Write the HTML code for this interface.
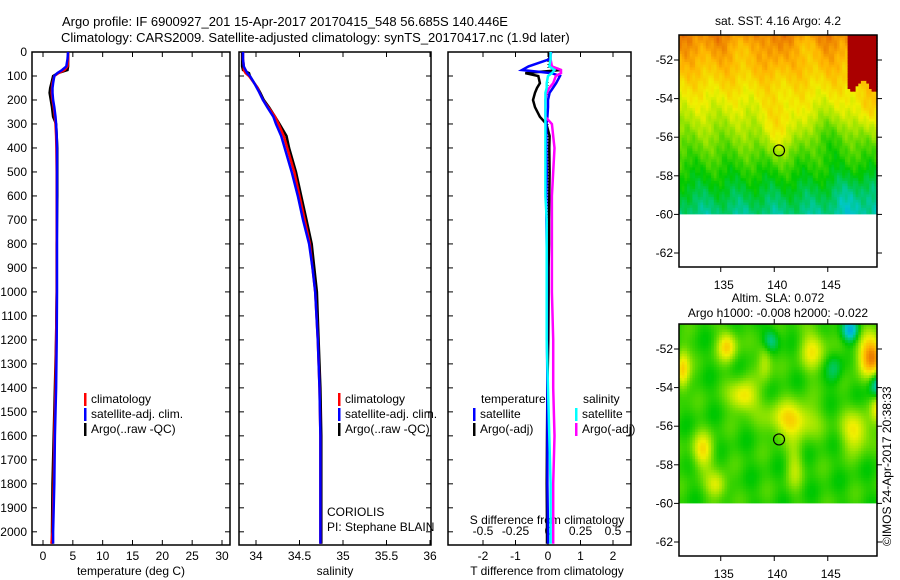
<!DOCTYPE html>
<html><head><meta charset="utf-8"><style>
html,body{margin:0;padding:0;background:#fff}
svg{display:block;font-family:"Liberation Sans",sans-serif}
text{font-size:12px;fill:#000}
</style></head><body>
<svg id="c" width="900" height="580" viewBox="0 0 900 580" xmlns="http://www.w3.org/2000/svg">
<text x="62" y="26" style="font-size:13px">Argo profile: IF 6900927_201 15-Apr-2017 20170415_548 56.685S 140.446E</text>
<text x="61" y="42" style="font-size:13px">Climatology: CARS2009. Satellite-adjusted climatology: synTS_20170417.nc (1.9d later)</text>
<g id="g"></g>
</svg>
<script>
// ---- data ----
const depthTicks=[0,100,200,300,400,500,600,700,800,900,1000,1100,1200,1300,1400,1500,1600,1700,1800,1900,2000];
const tTicks=[0,5,10,15,20,25,30];
const sTicks=[34,34.5,35,35.5,36];
const sTickLabels=["34","34.5","35","35.5","36"];
const dTTicks=[-2,-1,0,1,2];
const dSTicks=[-0.5,-0.25,0,0.25,0.5];
const dSTickLabels=["-0.5","-0.25","0","0.25","0.5"];
const depths=[0,30,60,75,88,100,130,150,170,200,230,270,300,350,400,500,600,700,800,900,1000,1200,1400,1600,1800,2000,2050];
const tempClim=[4.2,4.2,4.1,3.6,2.6,1.9,1.6,1.5,1.45,1.6,1.8,2.0,2.1,2.2,2.25,2.3,2.3,2.3,2.3,2.3,2.3,2.2,2.1,1.9,1.8,1.6,1.4];
const tempSat=[4.2,4.1,3.9,3.2,2.4,1.9,1.7,1.6,1.6,1.7,1.9,2.1,2.2,2.3,2.35,2.35,2.35,2.35,2.35,2.35,2.35,2.3,2.2,2.0,1.9,1.7,1.7];
const tempArgo=[4.2,4.2,4.2,4.1,2.5,1.7,1.4,1.2,1.1,1.3,1.5,1.7,2.2,2.3,2.4,2.4,2.4,2.35,2.3,2.3,2.3,2.2,2.0,1.8,1.6,1.5,1.5];
const salClim=[33.85,33.85,33.86,33.86,33.88,33.92,33.98,34.02,34.04,34.08,34.14,34.22,34.26,34.32,34.36,34.44,34.5,34.56,34.62,34.65,34.68,34.71,34.73,34.74,34.74,34.74,34.74];
const salSat=[33.85,33.85,33.86,33.88,33.9,33.93,33.98,34.01,34.04,34.08,34.13,34.2,34.23,34.29,34.33,34.41,34.48,34.54,34.61,34.65,34.68,34.71,34.73,34.74,34.74,34.74,34.74];
const salArgo=[33.84,33.84,33.84,33.85,33.92,33.93,33.98,34.02,34.05,34.09,34.15,34.22,34.27,34.35,34.38,34.46,34.52,34.58,34.64,34.67,34.7,34.72,34.74,34.75,34.75,34.75,34.75];
const dTSat=[0.1,0.05,-0.6,-0.8,0.1,0.37,0.25,0.15,0.05,0,0,-0.02,-0.05,-0.05,-0.05,-0.04,-0.05,-0.05,-0.04,-0.03,-0.03,-0.03,-0.02,-0.02,-0.02,0,0];
const dTArgo=[0.02,0.05,0.1,0.4,-0.7,-0.3,-0.25,-0.34,-0.4,-0.46,-0.4,-0.25,-0.05,0.05,0.04,0.05,0.04,0.03,0.03,0.02,0.02,0.01,-0.02,-0.03,-0.04,-0.03,-0.03];
const dSSat=[0.02,0.02,0.01,0.05,0.03,0,-0.01,-0.01,-0.02,-0.02,-0.02,-0.02,-0.02,-0.02,-0.02,-0.02,-0.02,-0.01,-0.01,-0.01,-0.01,-0.01,0,0.01,0.02,0.02,0.02];
const dSArgo=[0.02,0.02,0.03,0.1,0.1,0.06,0.04,0.01,-0.01,-0.02,-0.02,-0.02,0.03,0.04,0.05,0.04,0.03,0.03,0.03,0.03,0.03,0.04,0.04,0.05,0.04,0.04,0.04];
const lonTicks=[135,140,145];
const latTicks=[-52,-54,-56,-58,-60,-62];
const argoPos=[140.446,-56.685];

// ---- helpers ----
const NS="http://www.w3.org/2000/svg", G=document.getElementById('g');
function el(t,a,p){const e=document.createElementNS(NS,t);for(const k in a)e.setAttribute(k,a[k]);(p||G).appendChild(e);return e;}
const Y0=52,Y1=545,DMAX=2055;
const yD=d=>Y0+d*(Y1-Y0)/DMAX;
function lin(d0,d1,p0,p1){return v=>p0+(v-d0)*(p1-p0)/(d1-d0);}
const panels=[{x0:32,x1:230,f:lin(0,30,43,222)},{x0:239,x1:431,f:lin(34,36,256,430)},{x0:448,x1:631,f:lin(0,1,548,580.5)}];
const xS=lin(0,0.5,548,613);
function box(x0,y0,x1,y1,name){const r=el('rect',{x:x0,y:y0,width:x1-x0,height:y1-y0,fill:'none',stroke:'#000','stroke-width':1.5});}
function txt(x,y,s,anchor,name,extra){const t=el('text',Object.assign({x:x,y:y,'text-anchor':anchor||'start'},extra||{}));t.textContent=s;return t;}
function series(vals,fx,color,name,w){const pts=vals.map((v,i)=>fx(v).toFixed(1)+','+yD(depths[i]).toFixed(1)).join(' ');const p=el('polyline',{points:pts,fill:'none',stroke:color,'stroke-width':w||2.5,'stroke-linejoin':'miter'});}

depthTicks.forEach(d=>{txt(27,yD(d)+4,String(d),'end','depth-tick-label');
 panels.forEach(p=>{el('line',{x1:p.x0,x2:p.x0+5,y1:yD(d),y2:yD(d),stroke:'#000'});el('line',{x1:p.x1-5,x2:p.x1,y1:yD(d),y2:yD(d),stroke:'#000'});});});
panels.forEach((p,i)=>box(p.x0,Y0,p.x1,Y1,'panel-'+(i+1)+'-frame'));
function xt(vals,f,labels,name){vals.forEach((v,i)=>{const x=f(v);el('line',{x1:x,x2:x,y1:Y1,y2:Y1-5,stroke:'#000'});el('line',{x1:x,x2:x,y1:Y0,y2:Y0+5,stroke:'#000'});txt(x,Y1+15,labels?labels[i]:String(v),'middle',name);});}
xt(tTicks,panels[0].f,null,'temperature-tick-label');
xt(sTicks,panels[1].f,sTickLabels,'salinity-tick-label');
xt(dTTicks,panels[2].f,null,'t-diff-tick-label');
dSTicks.forEach((v,i)=>txt(xS(v),Y1-10,dSTickLabels[i],'middle','s-diff-tick-label'));
txt(131,575,'temperature (deg C)','middle','temperature-axis-title');
txt(335,575,'salinity','middle','salinity-axis-title');
txt(547,575,'T difference from climatology','middle','t-diff-axis-title');
txt(547,524,'S difference from climatology','middle','s-diff-axis-title');

series(tempArgo,panels[0].f,'#000','temp-argo');
series(tempClim,panels[0].f,'#f00','temp-climatology');
series(tempSat,panels[0].f,'#00f','temp-satellite-adj');
series(salArgo,panels[1].f,'#000','sal-argo');
series(salClim,panels[1].f,'#f00','sal-climatology');
series(salSat,panels[1].f,'#00f','sal-satellite-adj');
el('line',{x1:548,x2:548,y1:Y0,y2:Y1,stroke:'#000','stroke-dasharray':'1,2'});
series(dTArgo,panels[2].f,'#000','t-diff-argo');
series(dTSat,panels[2].f,'#00f','t-diff-satellite');
series(dSArgo,xS,'#f0f','s-diff-argo');
series(dSSat,xS,'#0ff','s-diff-satellite');

function leg(x,y,c,s,name){el('rect',{x:x,y:y-10,width:2.5,height:13,fill:c});txt(x+7,y,s,'start',name);}
[[84,'#f00','climatology'],[84,'#00f','satellite-adj. clim.'],[84,'#000','Argo(..raw -QC)']].forEach((l,i)=>leg(l[0],403+i*15,l[1],l[2],'legend-entry'));
[[338,'#f00','climatology'],[338,'#00f','satellite-adj. clim.'],[338,'#000','Argo(..raw -QC)']].forEach((l,i)=>leg(l[0],403+i*15,l[1],l[2],'legend-entry'));
txt(481,403,'temperature','start','legend-title-temperature');
txt(583,403,'salinity','start','legend-title-salinity');
leg(473,418,'#00f','satellite','legend-entry');leg(473,433,'#000','Argo(-adj)','legend-entry');
leg(575,418,'#0ff','satellite','legend-entry');leg(575,433,'#f0f','Argo(-adj)','legend-entry');
txt(327,516,'CORIOLIS','start','data-centre-label');
txt(327,531,'PI: Stephane BLAIN','start','pi-label');

// maps
const MX0=679,MX1=877,LON0=131.1,LON1=149.6;
const mx=lin(LON0,LON1,MX0,MX1);
function jet(v){v=Math.max(0,Math.min(1,v));const st=[[0,[0,120,255]],[0.2,[0,200,200]],[0.38,[0,200,0]],[0.55,[160,230,0]],[0.65,[240,240,0]],[0.78,[255,180,0]],[0.9,[230,110,0]],[1,[170,0,0]]];
 for(let i=1;i<st.length;i++)if(v<=st[i][0]){const a=st[i-1],b=st[i],t=(v-a[0])/(b[0]-a[0]);return 'rgb('+a[1].map((c,k)=>Math.round(c+(b[1][k]-c)*t)).join(',')+')';}return 'rgb(170,0,0)';}
function blob(lo,la,clo,cla,rlo,rla){const dx=(lo-clo)/rlo,dy=(la-cla)/rla;return Math.exp(-(dx*dx+dy*dy));}
function map(top,name,fieldFn,title1,title2){
 const my=lin(-52,-62,top+25,top+218);
 const latTop=-52+25/19.3;
 const g=el('g',{});
 const sl=0.25,sa=0.14;
 for(let la=latTop;la>-60;la-=sa)for(let lo=LON0;lo<LON1;lo+=sl){
  const x=mx(lo),y=my(la);el('rect',{x:x.toFixed(1),y:y.toFixed(1),width:(10.7*sl+0.6).toFixed(1),height:(19.3*sa+0.6).toFixed(1),fill:jet(fieldFn(lo,la))},g);}
 const yb=my(-60);el('rect',{x:MX0,y:yb,width:MX1-MX0,height:top+232-yb,fill:'#fff'},g);
 box(MX0,top,MX1,top+232,name+'-frame');
 latTicks.forEach(l=>{const y=my(l);el('line',{x1:MX0-5,x2:MX0,y1:y,y2:y,stroke:'#000'});el('line',{x1:MX1,x2:MX1+5,y1:y,y2:y,stroke:'#000'});txt(MX0-6,y+4,String(l),'end','latitude-tick-label');});
 lonTicks.forEach(l=>{const x=mx(l);el('line',{x1:x,x2:x,y1:top,y2:top-5,stroke:'#000'});el('line',{x1:x,x2:x,y1:top+232,y2:top+237,stroke:'#000'});txt(x+3,top+254,String(l),'middle','longitude-tick-label');});
 const c=el('circle',{cx:mx(argoPos[0]),cy:my(argoPos[1]),r:5.5,fill:'none',stroke:'#000','stroke-width':1.2});
 txt(778,top-(title2?22:10),title1,'middle',name+'-title');
 if(title2)txt(778,top-7,title2,'middle',name+'-subtitle');
}
map(35,'sst-map',(lo,la)=>{
 let v=0.45+(la+57)*0.065+0.03*Math.sin(lo*1.9+la*0.8)+0.015*Math.sin(lo*4.7+la*6.1)+0.015*Math.cos(lo*7.3-la*3.9);
 v+=0.12*blob(lo,la,140.5,-55.5,2,1.5)-0.06*blob(lo,la,145,-56,2.5,1.2)+0.1*blob(lo,la,148.5,-54.5,1.2,1.2);
 v-=0.07*blob(lo,la,147.5,-59,2.5,1.5)+0.06*blob(lo,la,137.5,-51.2,1.5,0.8)+0.06*blob(lo,la,142.5,-51.2,1.5,0.8);
 v+=0.05*blob(lo,la,140,-51.5,1,1.2);
 if(lo>146.6&&la>-53.3-0.3*Math.sin(lo*3))v=1; return v;},'sat. SST: 4.16 Argo: 4.2');
map(324,'sla-map',(lo,la)=>{
 let v=0.42+0.025*Math.sin(lo*2.3+la*0.5)+0.02*Math.sin(la*3.1-lo*0.7);
 v+=0.28*blob(lo,la,135.5,-51.8,0.9,0.8)+0.28*blob(lo,la,137,-54.4,1.3,0.8)+0.3*blob(lo,la,141.5,-55.6,2.2,0.9)
  +0.26*blob(lo,la,133.2,-57.2,1,0.9)+0.22*blob(lo,la,134.5,-59,1,0.7)+0.26*blob(lo,la,147.5,-56.2,1.3,1)
  +0.22*blob(lo,la,143.5,-52,1.2,1.1)+0.3*blob(lo,la,131.3,-53,0.7,1.1)+0.18*blob(lo,la,139,-52.5,0.7,1.1)
  +0.45*blob(lo,la,149,-52.3,1.3,1.1)+0.2*blob(lo,la,149.5,-55,0.6,0.8)+0.15*blob(lo,la,141.8,-58,0.8,1.2)
  -0.28*blob(lo,la,147,-51,0.8,0.6)-0.2*blob(lo,la,139.5,-51.5,0.8,0.6)-0.28*blob(lo,la,149.5,-53.8,0.8,0.7)
  -0.12*blob(lo,la,145.5,-53,0.8,0.8);
 return v;},'Altim. SLA: 0.072','Argo h1000: -0.008 h2000: -0.022');
txt(0,0,'©IMOS 24-Apr-2017 20:38:33','start','imos-timestamp',{transform:'translate(891,546) rotate(-90)'});
</script>
</body></html>
